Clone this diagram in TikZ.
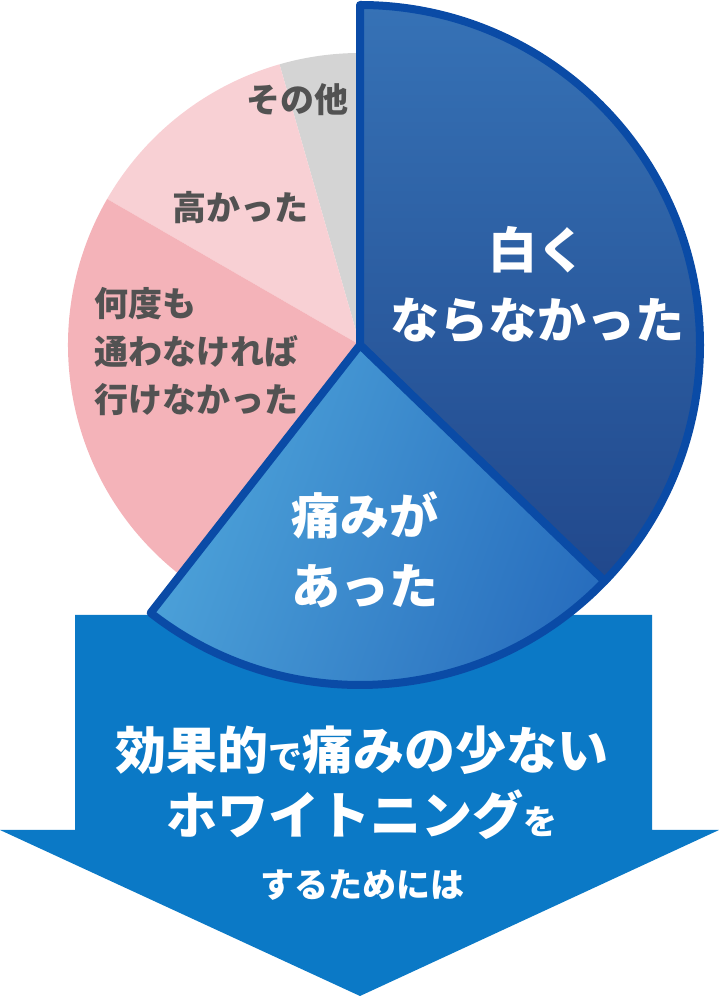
\documentclass[tikz,border=0pt]{standalone}
\usepackage{fontspec}
\newfontfamily\jp{Noto Sans CJK JP}
\begin{document}
\begin{tikzpicture}[x=1pt,y=1pt,
  lbl/.style={font=\jp\bfseries\fontsize{34}{48}\selectfont,text=black!68,align=left},
  big/.style={font=\jp\bfseries\fontsize{49}{70}\selectfont,text=white,align=center},
  arr/.style={font=\jp\bfseries\fontsize{51}{60}\selectfont,text=white}]
\useasboundingbox (0,0) rectangle (719,996);
\definecolor{bd}{HTML}{0A4BA6}
\definecolor{arrc}{HTML}{0B79C6}
\definecolor{pk1}{HTML}{F4B3B9}
\definecolor{pk2}{HTML}{F8D0D4}
% arrow
\fill[arrc] (75,381) -- (652,381) -- (652,166) -- (719,166) -- (360,0) -- (0,166) -- (75,166) -- cycle;
\coordinate (C) at (360,651);
% pie
\fill[black!17] (C) -- ++(90:292) arc (90:106:292) -- cycle;
\fill[pk2] (C) -- ++(106:292) arc (106:150:292) -- cycle;
\fill[pk1] (C) -- ++(150:292) arc (150:232:292) -- cycle;
% blue
\shadedraw[top color={rgb,255:red,54;green,114;blue,182},bottom color={rgb,255:red,33;green,72;blue,140},draw=bd,line width=8pt,line join=round]
  (C) -- ++(90:340) arc (90:-44:340) -- cycle;
\shadedraw[left color={rgb,255:red,78;green,164;blue,218},right color={rgb,255:red,40;green,110;blue,190},shading angle=70,draw=bd,line width=8pt,line join=round]
  (C) -- ++(-44:340) arc (-44:-128:340) -- cycle;
% labels
\node[lbl] (a) at (297,896) {その他};
\node[lbl] (b) at (240,788) {高かった};
\node[lbl] (c) at (196,644) {何度も\\通わなければ\\行けなかった};
\node[big] (d) at (537,711) {白く\\ならなかった};
\node[big] (e) at (365,446) {痛みが\\あった};
\node[arr] (f) at (362,246) {効果的{\fontsize{34}{36}\selectfont で}痛みの少ない};
\node[arr] (g) at (362,181) {ホワイトニング{\fontsize{34}{36}\selectfont を}};
\node[font=\jp\bfseries\fontsize{34}{36}\selectfont,text=white] (h) at (362,111) {するためには};
\end{tikzpicture}
\end{document}
